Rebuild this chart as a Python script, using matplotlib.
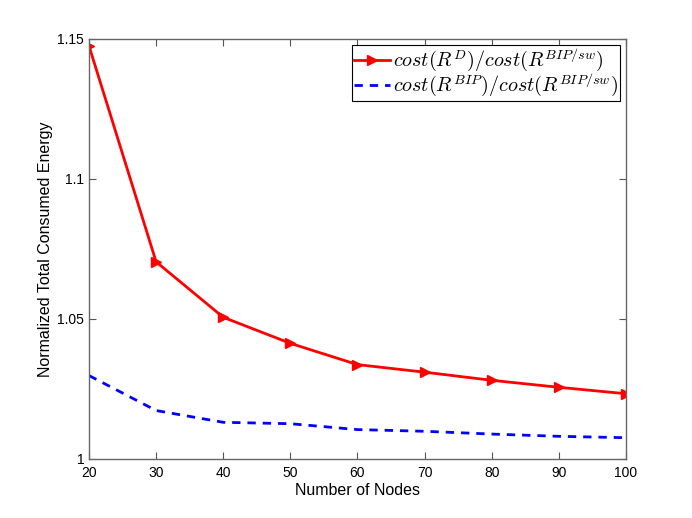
import matplotlib
matplotlib.use('Agg')
import matplotlib.pyplot as plt

nodes = [20, 30, 40, 50, 60, 70, 80, 90, 100]
ratio_d = [1.1475, 1.0704, 1.0506, 1.0413, 1.0337, 1.0310, 1.0281, 1.0256, 1.0233]
ratio_bip = [1.0298, 1.0173, 1.0131, 1.0126, 1.0105, 1.0099, 1.0089, 1.0081, 1.0076]

y_ticks = [1, 1.05, 1.1, 1.15]
y_labels = ['1', '1.05', '1.1', '1.15']

plt.rcParams['font.family'] = ['Liberation Sans', 'DejaVu Sans']
plt.rcParams['mathtext.fontset'] = 'cm'

fig = plt.figure(figsize=(6.92, 5.18), dpi=100)
ax = fig.add_axes([0.1286, 0.1139, 0.776, 0.811])

ax.plot(nodes, ratio_d, color='red', linewidth=2, marker='>', markersize=7,
        label=r'$cost(R^D)/cost(R^{BIP/sw})$')
ax.plot(nodes, ratio_bip, color='blue', linewidth=2, linestyle=(0, (3, 2.5)),
        label=r'$cost(R^{BIP})/cost(R^{BIP/sw})$')

ax.set_xlim(20, 100)
ax.set_ylim(1, 1.15)
ax.set_xticks(nodes)
ax.set_yticks(y_ticks)
ax.set_yticklabels(y_labels)
ax.tick_params(direction='in', top=True, right=True, labelsize=10, length=5,
               color='#555555')
ax.tick_params(axis='x', pad=5)
for s in ax.spines.values():
    s.set_color('#666666')
    s.set_linewidth(1)

ax.set_xlabel('Number of Nodes', fontsize=11.5, labelpad=2)
ax.set_ylabel('Normalized Total Consumed Energy', fontsize=11.5, labelpad=3)

leg = ax.legend(loc='upper right', fontsize=14.5, fancybox=False, framealpha=1,
                edgecolor='black', borderpad=0.1, handlelength=1.8,
                handletextpad=0.15, labelspacing=-0.1, borderaxespad=0.3)
leg.get_frame().set_linewidth(0.8)

plt.savefig('out.png', dpi=100)
